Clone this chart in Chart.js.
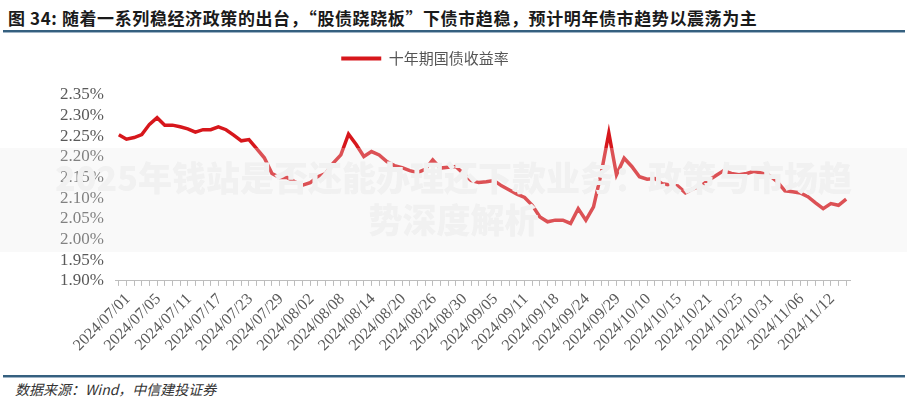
<!DOCTYPE html>
<html>
<head>
<meta charset="utf-8">
<script src="https://cdn.jsdelivr.net/npm/chart.js@4.4.1/dist/chart.umd.min.js"></script>
<style>
  body { margin: 0; background: #fff; }
  #page { position: relative; width: 907px; height: 400px; overflow: hidden; background: #fff; }
  #title { position: absolute; left: 8px; top: 5px; font: bold 17px "Noto Sans CJK SC", sans-serif; letter-spacing: 0.6px; color: #1a1a1a; white-space: nowrap; }
  .rule { position: absolute; left: 3px; width: 902px; height: 2px; background: #35607f; border-bottom: 1px solid #9fb4c6; }
  #source { position: absolute; left: 15px; top: 379px; font: italic 14px "Noto Sans CJK SC", "Liberation Serif", serif; color: #333; }
  #chartBox { position: absolute; left: 0; top: 25px; width: 907px; height: 334px; }
  #band { position: absolute; left: 0; top: 148px; width: 907px; height: 104px; background: rgba(232, 232, 232, 0.28); }
  #wm { position: absolute; left: 0; top: 156px; width: 907px; text-align: center; font: 900 34px "Noto Sans CJK SC", sans-serif; line-height: 42px; color: #f1f1f1; }
</style>
</head>
<body>
<div id="page">
  <div id="title">图 34:  随着一系列稳经济政策的出台，“股债跷跷板”下债市趋稳，预计明年债市趋势以震荡为主</div>
  <div class="rule" style="top:30px"></div>
  <div id="chartBox"><canvas id="chart"></canvas></div>
  <div class="rule" style="top:375px"></div>
  <div id="source">数据来源：Wind，中信建投证券</div>
  <div id="band"></div>
  <div id="wm">2025年钱站是否还能办理还下款业务：政策与市场趋<br>势深度解析</div>
</div>
<script>
const seriesName = '十年期国债收益率';

// trading days, 2024/07/01 .. 2024/11/15
const dates = [
  '2024/07/01', '2024/07/02', '2024/07/03', '2024/07/04', '2024/07/05', '2024/07/08', '2024/07/09', '2024/07/10',
  '2024/07/11', '2024/07/12', '2024/07/15', '2024/07/16', '2024/07/17', '2024/07/18', '2024/07/19', '2024/07/22',
  '2024/07/23', '2024/07/24', '2024/07/25', '2024/07/26', '2024/07/29', '2024/07/30', '2024/07/31', '2024/08/01',
  '2024/08/02', '2024/08/05', '2024/08/06', '2024/08/07', '2024/08/08', '2024/08/09', '2024/08/12', '2024/08/13',
  '2024/08/14', '2024/08/15', '2024/08/16', '2024/08/19', '2024/08/20', '2024/08/21', '2024/08/22', '2024/08/23',
  '2024/08/26', '2024/08/27', '2024/08/28', '2024/08/29', '2024/08/30', '2024/09/02', '2024/09/03', '2024/09/04',
  '2024/09/05', '2024/09/06', '2024/09/09', '2024/09/10', '2024/09/11', '2024/09/12', '2024/09/13', '2024/09/14',
  '2024/09/18', '2024/09/19', '2024/09/20', '2024/09/23', '2024/09/24', '2024/09/25', '2024/09/26', '2024/09/27',
  '2024/09/29', '2024/09/30', '2024/10/08', '2024/10/09', '2024/10/10', '2024/10/11', '2024/10/12', '2024/10/14',
  '2024/10/15', '2024/10/16', '2024/10/17', '2024/10/18', '2024/10/21', '2024/10/22', '2024/10/23', '2024/10/24',
  '2024/10/25', '2024/10/28', '2024/10/29', '2024/10/30', '2024/10/31', '2024/11/01', '2024/11/04', '2024/11/05',
  '2024/11/06', '2024/11/07', '2024/11/08', '2024/11/11', '2024/11/12', '2024/11/13', '2024/11/14', '2024/11/15'
];

// 10y CGB yield, %
const yields = [
  2.254, 2.243, 2.247, 2.254, 2.279, 2.295, 2.277, 2.277, 2.273, 2.268, 2.260, 2.266,
  2.266, 2.273, 2.266, 2.253, 2.239, 2.242, 2.220, 2.198, 2.160, 2.150, 2.150, 2.140,
  2.132, 2.138, 2.152, 2.160, 2.185, 2.205, 2.255, 2.230, 2.201, 2.213, 2.205, 2.189,
  2.179, 2.174, 2.167, 2.162, 2.170, 2.193, 2.173, 2.175, 2.177, 2.160, 2.143, 2.138,
  2.140, 2.143, 2.130, 2.120, 2.110, 2.102, 2.083, 2.055, 2.043, 2.047, 2.047, 2.039,
  2.075, 2.047, 2.079, 2.160, 2.258, 2.157, 2.197, 2.177, 2.152, 2.146, 2.148, 2.135,
  2.132, 2.130, 2.113, 2.123, 2.130, 2.143, 2.155, 2.167, 2.160, 2.157, 2.160, 2.165,
  2.161, 2.155, 2.140, 2.118, 2.116, 2.113, 2.104, 2.089, 2.075, 2.087, 2.083, 2.098
];

const yMin = 1.90;
const yMax = 2.35;
const labelEvery = 4;

const lineRed = '#d7171c';
const tickGray = '#5a5a5a';

// extra room under the legend
const legendGap = {
    id: 'legendGap',
    beforeInit(chart) {
        const fit = chart.legend.fit;
        chart.legend.fit = function() {
            fit.bind(chart.legend)();
            this.height += 19;
        };
    }
};

const ctx = document.getElementById('chart').getContext('2d');
new Chart(ctx, {
    type: 'line',
    data: {
        labels: dates,
        datasets: [{
            label: seriesName,
            data: yields,
            borderColor: lineRed,
            backgroundColor: lineRed,
            borderWidth: 3.5,
            pointRadius: 0,
            tension: 0
        }]
    },
    options: {
        responsive: true,
        maintainAspectRatio: false,
        animation: false,
        layout: {
            padding: { top: 10, left: 0, right: 57, bottom: 0 }
        },
        scales: {
            x: {
                offset: true,
                grid: {
                    display: true,
                    drawOnChartArea: false,
                    drawTicks: true,
                    tickLength: 5,
                    color: '#bdbdbd'
                },
                border: { display: true, color: '#bdbdbd', width: 1 },
                ticks: {
                    autoSkip: false,
                    maxRotation: 45,
                    minRotation: 45,
                    padding: 4,
                    labelOffset: 9,
                    color: tickGray,
                    font: { family: '"Liberation Serif", serif', size: 16 },
                    callback: function(val, idx) {
                        return idx % labelEvery === 0 ? dates[idx] : '';
                    }
                }
            },
            y: {
                min: yMin,
                max: yMax,
                afterFit: function(scale) { scale.width = 115; },
                grid: { display: false, drawTicks: false },
                border: { display: false },
                ticks: {
                    stepSize: 0.05,
                    autoSkip: false,
                    padding: 11,
                    color: tickGray,
                    font: { family: '"Liberation Serif", serif', size: 17 },
                    callback: function(v) { return v.toFixed(2) + '%'; }
                }
            }
        },
        plugins: {
            legend: {
                display: true,
                position: 'top',
                labels: {
                    boxWidth: 40,
                    boxHeight: 4,
                    padding: 16,
                    color: '#555',
                    font: { family: '"Noto Sans CJK SC", sans-serif', size: 15 },
                    generateLabels: function(chart) {
                        return [{
                            text: seriesName,
                            fillStyle: lineRed,
                            strokeStyle: lineRed,
                            lineWidth: 0,
                            fontColor: '#555',
                            datasetIndex: 0
                        }];
                    }
                }
            },
            tooltip: { enabled: false }
        }
    },
    plugins: [legendGap]
});
</script>
</body>
</html>
